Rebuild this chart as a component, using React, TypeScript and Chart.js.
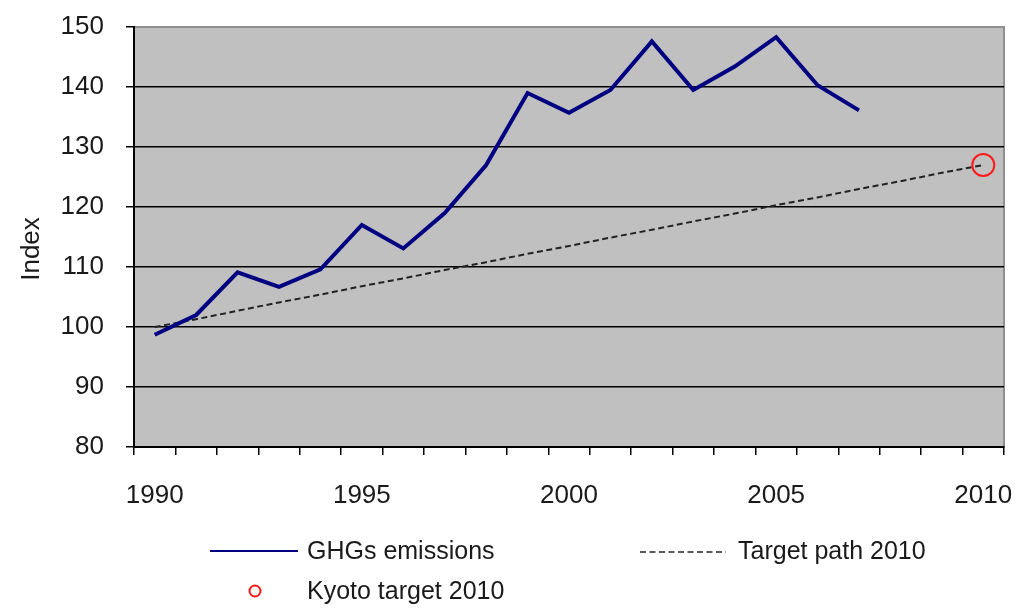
import React, { useEffect, useRef } from 'react';
import { Chart, registerables } from 'chart.js';

Chart.register(...registerables);

// ---- data ----
const years = ['1990', '1991', '1992', '1993', '1994', '1995', '1996', '1997', '1998', '1999', '2000',
  '2001', '2002', '2003', '2004', '2005', '2006', '2007', '2008', '2009', '2010'];
const xTickLabels = ['1990', '1995', '2000', '2005', '2010'];
const ghgEmissions = [98.7, 102.0, 109.1, 106.7, 109.6, 117.0, 113.1, 119.0, 127.0, 139.0, 135.7,
  139.5, 147.6, 139.5, 143.4, 148.3, 140.3, 136.1];
const targetPath = [100.0, 101.3, 102.7, 104.1, 105.4, 106.8, 108.1, 109.5, 110.8, 112.2, 113.5,
  114.9, 116.2, 117.6, 118.9, 120.3, 121.6, 123.0, 124.3, 125.7, 127.0];
const kyotoTarget = [null, null, null, null, null, null, null, null, null, null, null,
  null, null, null, null, null, null, null, null, null, 127.0];
const seriesLabels = ['GHGs emissions', 'Target path 2010', 'Kyoto target 2010'];
const yAxisTitle = 'Index';
const yMin = 80;
const yMax = 150;
const yStep = 10;

const FONT = '"Liberation Sans", Arial, sans-serif';
const TEXT = '#1a1a1a';

const plotBackground = {
  id: 'plotBackground',
  beforeDraw(chart: any) {
    const { ctx, chartArea: a } = chart;
    ctx.save();
    ctx.fillStyle = '#c0c0c0';
    ctx.fillRect(a.left, a.top, a.right - a.left, a.bottom - a.top);
    ctx.strokeStyle = '#8f8f8f';
    ctx.lineWidth = 2;
    ctx.strokeRect(a.left, a.top, a.right - a.left, a.bottom - a.top);
    ctx.restore();
  },
};

const customDecor = {
  id: 'customDecor',
  afterDraw(chart: any) {
    const { ctx } = chart;
    const ds = chart.data.datasets;
    ctx.save();
    // y axis title
    ctx.fillStyle = TEXT;
    ctx.font = `26px ${FONT}`;
    ctx.textAlign = 'center';
    ctx.textBaseline = 'middle';
    ctx.translate(32, 249);
    ctx.rotate(-Math.PI / 2);
    ctx.fillText(yAxisTitle, 0, 0);
    ctx.restore();

    // legend
    ctx.save();
    ctx.font = `25px ${FONT}`;
    ctx.textAlign = 'left';
    ctx.textBaseline = 'middle';
    ctx.fillStyle = TEXT;
    // row 1 - GHGs
    ctx.strokeStyle = ds[0].borderColor;
    ctx.lineWidth = 2;
    ctx.beginPath();
    ctx.moveTo(210, 551);
    ctx.lineTo(298, 551);
    ctx.stroke();
    ctx.fillText(ds[0].label, 307, 552);
    // row 1 - target
    ctx.strokeStyle = ds[1].borderColor;
    ctx.lineWidth = 1.5;
    ctx.setLineDash([6, 3.5]);
    ctx.beginPath();
    ctx.moveTo(640, 552);
    ctx.lineTo(726, 552);
    ctx.stroke();
    ctx.setLineDash([]);
    ctx.fillText(ds[1].label, 738, 552);
    // row 2 - kyoto
    ctx.strokeStyle = ds[2].borderColor;
    ctx.lineWidth = 2;
    ctx.beginPath();
    ctx.arc(255, 591, 5.5, 0, Math.PI * 2);
    ctx.stroke();
    ctx.fillText(ds[2].label, 307, 592);
    ctx.restore();
  },
};

export default function App() {
  const ref = useRef<HTMLCanvasElement>(null);

  useEffect(() => {
    document.body.style.margin = '0';
    const canvas = ref.current;
    if (!canvas) return;
    const chart = new Chart(canvas, {
      type: 'line',
      data: {
        labels: years,
        datasets: [
          {
            label: seriesLabels[0],
            data: ghgEmissions,
            borderColor: '#000080',
            borderWidth: 4,
            pointRadius: 0,
            fill: false,
            tension: 0,
            order: 1,
          },
          {
            label: seriesLabels[1],
            data: targetPath,
            borderColor: '#222222',
            borderWidth: 2,
            borderDash: [6, 3.5],
            pointRadius: 0,
            fill: false,
            tension: 0,
            order: 2,
          },
          {
            label: seriesLabels[2],
            data: kyotoTarget,
            borderColor: '#ff1a1a',
            backgroundColor: 'rgba(0,0,0,0)',
            borderWidth: 2,
            showLine: false,
            pointRadius: 11,
            pointStyle: 'circle',
            order: 0,
          },
        ],
      },
      options: {
        responsive: false,
        animation: false,
        devicePixelRatio: 1,
        layout: { padding: { left: 0, top: 27, right: 22, bottom: 106 } },
        plugins: {
          legend: { display: false },
          tooltip: { enabled: false },
          title: { display: false },
        },
        scales: {
          x: {
            type: 'category',
            offset: true,
            grid: {
              display: true,
              offset: true,
              drawOnChartArea: false,
              drawTicks: true,
              tickLength: 8,
              color: '#000',
              tickColor: '#000',
              lineWidth: 1.5,
            },
            border: { display: true, color: '#000', width: 2 },
            ticks: {
              autoSkip: false,
              maxRotation: 0,
              padding: 25,
              color: TEXT,
              font: { family: FONT, size: 26 },
              callback: (_v: any, i: number) => (xTickLabels.includes(years[i]) ? years[i] : ''),
            },
            afterFit: (s: any) => {
              s.height = 60;
              s.paddingLeft = 0;
              s.paddingRight = 0;
            },
          },
          y: {
            min: yMin,
            max: yMax,
            grid: {
              color: (c: any) => (c.tick && c.tick.value === yMax ? 'rgba(0,0,0,0)' : '#000'),
              tickColor: '#000',
              lineWidth: 1.5,
              tickLength: 8,
            },
            border: { display: true, color: '#000', width: 2 },
            ticks: {
              stepSize: yStep,
              padding: 22,
              color: TEXT,
              font: { family: FONT, size: 26 },
            },
            afterFit: (s: any) => {
              s.width = 134;
              s.paddingTop = 0;
              s.paddingBottom = 0;
            },
          },
        },
      },
      plugins: [plotBackground, customDecor],
    });
    return () => chart.destroy();
  }, []);

  return (
    <div style={{ position: 'absolute', left: 0, top: 0, width: 1026, height: 613 }}>
      <canvas ref={ref} width={1026} height={613} style={{ display: 'block', width: 1026, height: 613 }} />
    </div>
  );
}
